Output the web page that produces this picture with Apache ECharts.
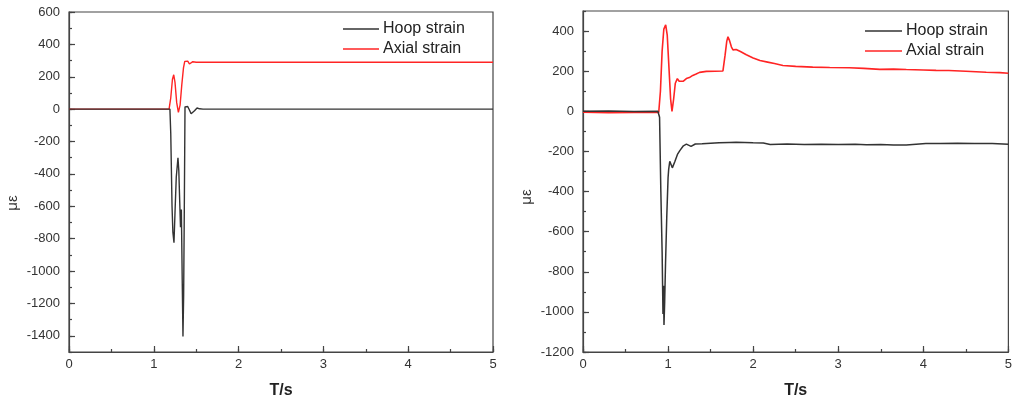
<!DOCTYPE html>
<html>
<head>
<meta charset="utf-8">
<script src="https://cdn.jsdelivr.net/npm/echarts@6/dist/echarts.min.js"></script>
<style>
html,body{margin:0;padding:0;background:#fff;}
#chart{width:1015px;height:404px;}
</style>
</head>
<body>
<div id="chart"></div>
<script>
// ---------- data ----------
const seriesNames = ['Hoop strain', 'Axial strain'];
const xTickLabels = [0, 1, 2, 3, 4, 5];
const yTickLabelsLeft = [-1400, -1200, -1000, -800, -600, -400, -200, 0, 200, 400, 600];
const yTickLabelsRight = [-1200, -1000, -800, -600, -400, -200, 0, 200, 400];

// left panel
const hoopLeftT = [0, 1.19, 1.20, 1.215, 1.225, 1.238, 1.25, 1.265, 1.285, 1.295, 1.305, 1.315, 1.325, 1.335, 1.344, 1.352, 1.36, 1.368, 1.38, 1.40, 1.42, 1.44, 1.455, 1.48, 1.51, 1.54, 1.58, 5];
const hoopLeftV = [0, 0, -150, -600, -760, -825, -640, -420, -300, -380, -560, -730, -620, -1050, -1404, -1150, -600, 14, 18, 16, -5, -28, -34, -10, 7, 2, 0, 0];
const axialLeftT = [0, 1.18, 1.20, 1.22, 1.235, 1.25, 1.27, 1.29, 1.31, 1.33, 1.35, 1.365, 1.376, 1.40, 1.42, 1.44, 1.46, 1.50, 1.55, 5];
const axialLeftV = [0, 0, 70, 185, 212, 165, 40, -20, 25, 150, 255, 295, 304, 296, 279, 288, 293, 290, 290, 290];

// right panel
const hoopRightT = [0, 0.3, 0.6, 0.88, 0.90, 0.915, 0.93, 0.94, 0.946, 0.952, 0.96, 0.97, 0.985, 1.0, 1.007, 1.02, 1.035, 1.05, 1.08, 1.11, 1.14, 1.18, 1.215, 1.27, 1.32, 1.4, 1.5, 1.6, 1.72, 1.8, 1.9, 2.0, 2.12, 2.2, 2.4, 2.6, 2.8, 3.0, 3.2, 3.33, 3.5, 3.65, 3.8, 4.03, 4.2, 4.4, 4.6, 4.81, 5.0];
const hoopRightV = [0, 1, -1, 0, -30, -400, -700, -1010, -870, -1065, -950, -760, -520, -330, -290, -249, -265, -282, -250, -215, -195, -172, -164, -175, -163, -162, -159, -157, -155, -154, -155, -157, -158, -165, -163, -165, -164, -166, -164, -167, -166, -168, -168, -160, -161, -159, -160, -161, -164];
const axialRightT = [0, 0.3, 0.6, 0.89, 0.91, 0.93, 0.95, 0.972, 0.99, 1.01, 1.03, 1.046, 1.065, 1.085, 1.109, 1.13, 1.145, 1.18, 1.215, 1.25, 1.29, 1.33, 1.37, 1.45, 1.55, 1.645, 1.67, 1.69, 1.704, 1.72, 1.745, 1.763, 1.80, 1.85, 1.92, 2.0, 2.08, 2.17, 2.25, 2.35, 2.5, 2.7, 2.9, 3.13, 3.3, 3.49, 3.65, 3.8, 4.0, 4.15, 4.3, 4.5, 4.74, 4.9, 5.0];
const axialRightV = [-5, -7, -6, -6, 100, 300, 410, 431, 380, 220, 60, 0, 60, 140, 163, 150, 141, 150, 163, 168, 179, 186, 194, 199, 200, 201, 280, 350, 372, 355, 320, 306, 308, 298, 282, 266, 253, 245, 238, 228, 224, 220, 218, 217, 214, 209, 210, 208, 206, 204, 203, 200, 195, 193, 190];

// ---------- build ----------
function zip(t, v) { return t.map((x, i) => [x, v[i]]); }
const FONT = '"Liberation Sans", Arial, sans-serif';
const AX = '#444';
const HOOP = '#333333';
const AXIAL = '#ff2424';
const plain = v => String(v);

const grids = [
  { left: 69, top: 12, width: 424, height: 344 },
  { left: 583, top: 11, width: 426, height: 343 }
];

function xAxesFor(g) {
  return [
    {
      type: 'value', gridIndex: g, min: 0, max: 5, interval: 0.5, position: 'bottom',
      axisLine: { onZero: false, lineStyle: { color: AX, width: 1.2 } },
      axisTick: { inside: true, length: 3, lineStyle: { color: AX, width: 1.2 } },
      axisLabel: { customValues: xTickLabels, formatter: plain, margin: 6, fontSize: 13, color: '#333', fontFamily: FONT },
      splitLine: { show: false },
      name: 'T/s', nameLocation: 'middle', nameGap: 31,
      nameTextStyle: { fontWeight: 'bold', fontSize: 16, color: '#222', fontFamily: FONT }
    },
    {
      type: 'value', gridIndex: g, min: 0, max: 5, interval: 1, position: 'bottom',
      axisLine: { show: false, onZero: false },
      axisTick: { inside: true, length: 6, lineStyle: { color: AX, width: 1.2 } },
      axisLabel: { show: false }, splitLine: { show: false }
    }
  ];
}
function yAxesFor(g, min, max, labels) {
  return [
    {
      type: 'value', gridIndex: g, min: min, max: max, interval: 100, position: 'left',
      axisLine: { show: true, onZero: false, lineStyle: { color: AX, width: 1.2 } },
      axisTick: { show: true, inside: true, length: 3, lineStyle: { color: AX, width: 1.2 } },
      axisLabel: { customValues: labels, formatter: plain, margin: 9, fontSize: 13, color: '#333', fontFamily: FONT },
      splitLine: { show: false }
    },
    {
      type: 'value', gridIndex: g, min: min, max: max, interval: 100, position: 'left',
      axisLine: { show: false, onZero: false },
      axisTick: { show: true, inside: true, length: 6, customValues: labels, lineStyle: { color: AX, width: 1.2 } },
      axisLabel: { show: false }, splitLine: { show: false }
    }
  ];
}

function lineSeries(name, data, xi, yi, color, w) {
  return {
    name: name, type: 'line', xAxisIndex: xi, yAxisIndex: yi, data: data,
    symbol: 'none', color: color, lineStyle: { color: color, width: w },
    animation: false, z: name === seriesNames[0] ? 3 : 2
  };
}

function legendAt(left, top, w) {
  return {
    orient: 'vertical', left: left, top: top, padding: 0,
    icon: 'rect', itemWidth: w, itemHeight: 1.6, itemGap: 4,
    data: seriesNames, selectedMode: false,
    textStyle: { fontSize: 16, color: '#222', fontFamily: FONT, padding: [0, 0, 0, -1] }
  };
}

const option = {
  animation: false,
  backgroundColor: '#fff',
  grid: grids.map(g => Object.assign({ show: true, borderColor: AX, borderWidth: 1.2, backgroundColor: 'transparent' }, g)),
  xAxis: [...xAxesFor(0), ...xAxesFor(1)],
  yAxis: [...yAxesFor(0, -1500, 600, yTickLabelsLeft), ...yAxesFor(1, -1200, 500, yTickLabelsRight)],
  legend: [legendAt(343, 21, 36), legendAt(865, 23, 37)],
  graphic: [
    { type: 'text', x: 13, y: 203, rotation: Math.PI / 2,
      style: { text: 'με', fontSize: 15, fill: '#333', fontFamily: FONT, align: 'center', verticalAlign: 'middle' } },
    { type: 'text', x: 527, y: 197, rotation: Math.PI / 2,
      style: { text: 'με', fontSize: 15, fill: '#333', fontFamily: FONT, align: 'center', verticalAlign: 'middle' } }
  ],
  series: [
    lineSeries(seriesNames[0], zip(hoopLeftT, hoopLeftV), 0, 0, HOOP, 1.4),
    lineSeries(seriesNames[1], zip(axialLeftT, axialLeftV), 0, 0, AXIAL, 1.4),
    lineSeries(seriesNames[0], zip(hoopRightT, hoopRightV), 2, 2, HOOP, 1.5),
    lineSeries(seriesNames[1], zip(axialRightT, axialRightV), 2, 2, AXIAL, 1.6)
  ]
};

const chart = echarts.init(document.getElementById('chart'), null, { renderer: 'canvas' });
chart.setOption(option);
</script>
</body>
</html>
